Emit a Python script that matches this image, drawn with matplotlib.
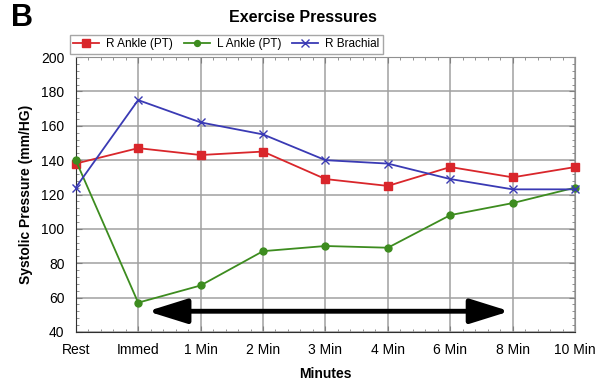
import matplotlib.pyplot as plt
from matplotlib.ticker import MultipleLocator

# data
time_labels = ["Rest", "Immed", "1 Min", "2 Min", "3 Min", "4 Min", "6 Min", "8 Min", "10 Min"]
r_ankle = [138, 147, 143, 145, 129, 125, 136, 130, 136]
l_ankle = [140, 57, 67, 87, 90, 89, 108, 115, 124]
r_brachial = [124, 175, 162, 155, 140, 138, 129, 123, 123]

plt.rcParams['font.family'] = ['Liberation Sans', 'DejaVu Sans']

fig = plt.figure(figsize=(6.01, 3.81), dpi=100)
ax = fig.add_axes([0.126, 0.129, 0.831, 0.721])

x = list(range(len(time_labels)))
ax.plot(x, r_ankle, color="#d9262b", marker="s", markersize=6, lw=1.3, label="R Ankle (PT)", clip_on=False, zorder=4)
ax.plot(x, l_ankle, color="#3d8c1f", marker="o", markersize=5, lw=1.3, label="L Ankle (PT)", clip_on=False, zorder=4)
ax.plot(x, r_brachial, color="#3a3ab4", marker="x", markersize=6, lw=1.3, label="R Brachial", clip_on=False, zorder=4)

# double arrow spanning the exercise window
ax.annotate("", xy=(6.95, 52), xytext=(1.15, 52),
            arrowprops=dict(arrowstyle="<|-|>,head_length=2.4,head_width=0.75", color="black", lw=3.5,
                            shrinkA=0, shrinkB=0), zorder=5)

ax.set_xlim(0, 8)
ax.set_ylim(40, 200)
ax.set_xticks(x)
ax.set_xticklabels(time_labels)
ax.xaxis.set_minor_locator(MultipleLocator(0.2))
ax.yaxis.set_major_locator(MultipleLocator(20))
ax.yaxis.set_minor_locator(MultipleLocator(4))
ax.grid(True, which="major", color="#a0a0a0", lw=1.1)
ax.tick_params(which="both", direction="in", top=True, right=True, labelsize=10, color="#808080")
ax.tick_params(which="major", length=4)
ax.tick_params(which="minor", length=2.5)
ax.tick_params(axis="x", which="major", pad=8)
ax.tick_params(axis="y", which="major", pad=8)
for s in ax.spines.values():
    s.set_color("#909090")
ax.spines["left"].set_color("#303030")
ax.spines["bottom"].set_color("#303030")

ax.set_xlabel("Minutes", fontsize=10, fontweight="bold", labelpad=7)
ax.set_ylabel("Systolic Pressure (mm/HG)", fontsize=10, fontweight="bold", labelpad=6)

leg = ax.legend(loc="lower left", bbox_to_anchor=(-0.012, 1.012), ncol=3, frameon=True, fancybox=False,
                fontsize=8.5, handlelength=2.2, columnspacing=0.9, borderpad=0.3, handletextpad=0.6,
                borderaxespad=0, markerscale=0.85)
leg.get_frame().set_edgecolor("#909090")
leg.get_frame().set_linewidth(1.0)

fig.text(0.504, 0.955, "Exercise Pressures", ha="center", va="center", fontsize=11.5, fontweight="bold")
fig.text(0.018, 0.953, "B", ha="left", va="center", fontsize=22, fontweight="bold")

fig.savefig("out.png", dpi=100)
